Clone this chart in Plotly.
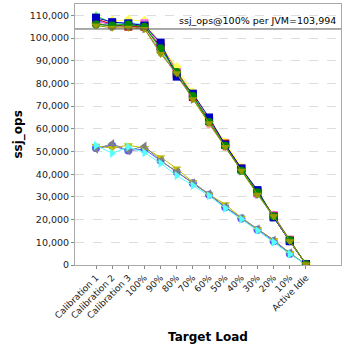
import plotly.graph_objects as go

categories = ["Calibration 1", "Calibration 2", "Calibration 3", "100%", "90%", "80%",
              "70%", "60%", "50%", "40%", "30%", "20%", "10%", "Active Idle"]

# upper group (thousands of ssj_ops)
s_red =       [107.5, 106.0, 106.5, 105.5, 97.5, 85.5, 75.0, 64.0, 53.5, 42.5, 32.0, 21.5, 10.8, 0.3]
s_blue =      [108.0, 105.5, 106.0, 105.0, 96.0, 84.5, 74.5, 63.5, 53.0, 42.0, 32.5, 21.0, 10.5, 0.3]
s_green =     [110.0, 106.5, 105.5, 106.0, 95.0, 85.0, 74.0, 63.0, 52.5, 42.5, 31.5, 21.5, 10.7, 0.3]
s_yellow =    [106.5, 107.5, 108.0, 107.5, 97.0, 87.0, 76.0, 64.5, 54.0, 43.0, 32.5, 22.0, 11.0, 0.3]
s_magenta =   [107.0, 106.5, 106.0, 106.5, 95.5, 85.0, 74.0, 63.5, 53.0, 42.0, 31.5, 22.0, 11.2, 0.3]
s_cyan =      [106.0, 106.0, 107.0, 106.0, 94.5, 84.0, 73.5, 62.5, 52.5, 41.5, 31.0, 21.0, 10.5, 0.3]
s_pink =      [107.0, 105.0, 105.0, 104.5, 95.0, 84.5, 74.5, 62.0, 52.0, 42.0, 31.5, 21.5, 10.3, 0.3]
s_gray =      [106.5, 105.0, 105.5, 104.0, 94.0, 83.5, 73.0, 63.0, 52.5, 41.5, 31.0, 21.0, 10.5, 0.3]
s_darkred =   [108.5, 106.0, 105.0, 105.0, 96.0, 84.0, 74.0, 63.5, 53.5, 42.5, 32.0, 21.5, 10.8, 0.3]
s_navy =      [109.0, 107.0, 106.5, 105.5, 98.0, 83.0, 75.5, 65.0, 53.0, 42.5, 33.0, 21.0, 10.5, 0.4]
s_darkgreen = [106.0, 105.5, 106.0, 105.0, 95.5, 85.0, 74.5, 63.0, 52.5, 41.5, 32.0, 21.5, 11.0, 0.3]
s_olive =     [105.5, 104.5, 104.5, 104.0, 93.0, 84.5, 73.0, 62.5, 52.0, 41.5, 31.0, 21.5, 10.5, 0.3]

# lower group
l_blue =   [51.5, 52.5, 50.5, 51.0, 46.0, 41.0, 36.0, 31.0, 25.5, 20.5, 15.5, 10.5, 5.0, 0.2]
l_yellow = [52.5, 51.5, 52.8, 51.5, 47.5, 42.5, 36.5, 31.0, 26.8, 20.8, 15.8, 11.0, 5.3, 0.2]
l_cyan =   [52.7, 49.2, 52.0, 49.5, 44.8, 39.4, 35.0, 30.5, 25.0, 20.2, 15.2, 10.0, 4.8, 0.2]
l_gray =   [51.0, 53.5, 50.4, 52.4, 46.0, 41.0, 36.2, 31.3, 25.7, 20.7, 15.9, 11.0, 5.3, 0.2]

ref_value = 103994
ref_label = "ssj_ops@100% per JVM=103,994"
y_ticks = list(range(0, 110001, 10000))

series = [
    (l_blue, "#5555ff", "circle"),
    (l_yellow, "#c0c000", "triangle-down"),
    (l_gray, "#808080", "triangle-left"),
    (l_cyan, "#55ffff", "triangle-right"),
    (s_red, "#ff5555", "square"),
    (s_blue, "#5555ff", "circle"),
    (s_yellow, "#ffff55", "diamond"),
    (s_magenta, "#ff55ff", "square"),
    (s_cyan, "#55ffff", "triangle-down"),
    (s_pink, "#ffafaf", "circle"),
    (s_gray, "#808080", "triangle-right"),
    (s_darkred, "#c00000", "square"),
    (s_green, "#55ff55", "triangle-up"),
    (s_navy, "#0000c0", "square"),
    (s_darkgreen, "#008800", "circle"),
    (s_olive, "#999900", "triangle-down"),
]

fig = go.Figure()
xs = list(range(len(categories)))
for vals, color, sym in series:
    fig.add_trace(go.Scatter(
        x=xs, y=[v * 1000 for v in vals], mode="lines+markers",
        line=dict(color=color, width=1),
        marker=dict(color=color, symbol=sym, size=8, line=dict(width=0)),
        showlegend=False, hoverinfo="skip"))

fig.add_shape(type="line", xref="paper", x0=0, x1=1, yref="y", y0=ref_value, y1=ref_value,
              line=dict(color="#555555", width=1))
fig.add_annotation(xref="paper", x=0.99, yref="y", y=ref_value, text=ref_label,
                   showarrow=False, xanchor="right", yanchor="bottom", yshift=1,
                   font=dict(family="DejaVu Sans", size=9.5, color="#000000"))
fig.add_annotation(xref="paper", x=-0.214, yref="paper", y=0.5, text="<b>ssj_ops</b>",
                   textangle=-90, showarrow=False, xanchor="center", yanchor="middle",
                   font=dict(family="DejaVu Sans", size=12, color="#000000"))

fig.update_layout(
    width=348, height=348,
    margin=dict(l=75, r=7, t=4, b=83),
    paper_bgcolor="white", plot_bgcolor="white",
    font=dict(family="DejaVu Sans", color="#222222"),
    xaxis=dict(
        range=[-1.3, 15.17], tickmode="array", tickvals=xs, ticktext=categories,
        tickangle=-45, tickfont=dict(size=9, color="#222222"),
        ticks="outside", ticklen=3, tickcolor="#888888",
        showgrid=False, zeroline=False,
        showline=True, linecolor="#aaaaaa", mirror=True,
        title=dict(text="<b>Target Load</b>", font=dict(size=12, color="#000000"), standoff=13),
    ),
    yaxis=dict(
        range=[0, 115000], tickmode="array", tickvals=y_ticks,
        ticktext=[f"{v:,}" for v in y_ticks],
        tickfont=dict(size=9.5, color="#222222"),
        ticks="outside", ticklen=3, tickcolor="#888888",
        showgrid=True, gridcolor="#dddddd", griddash="dash", gridwidth=1,
        zeroline=False, showline=True, linecolor="#aaaaaa", mirror=True,
    ),
)

fig.write_html("out.html")
